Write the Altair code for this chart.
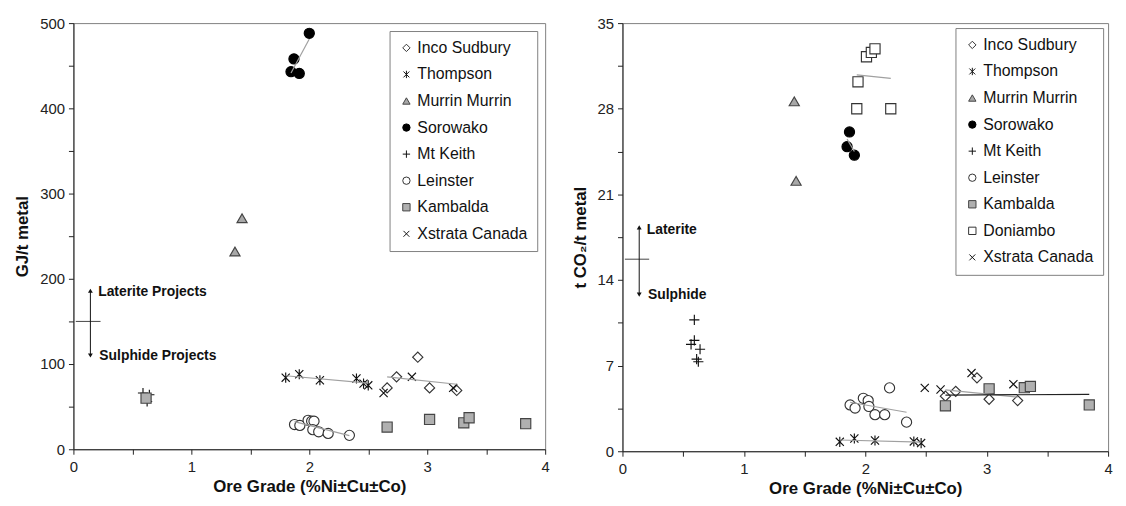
import altair as alt
import pandas as pd

FONT = "Liberation Sans"

# ---------------- Left panel: energy (GJ/t metal) ----------------
L_SERIES = ["Inco Sudbury", "Thompson", "Murrin Murrin", "Sorowako", "Mt Keith",
            "Leinster", "Kambalda", "Xstrata Canada"]
L_inco_x = [2.66, 2.74, 2.92, 3.02, 3.25]
L_inco_y = [72, 85, 108, 72, 69]
L_thom_x = [1.80, 1.915, 2.09, 2.40, 2.46, 2.50]
L_thom_y = [84, 88, 81, 83, 77, 75]
L_murr_x = [1.37, 1.43]
L_murr_y = [232, 271]
L_soro_x = [2.00, 1.87, 1.845, 1.915]
L_soro_y = [488, 458, 443, 441]
L_mtk_x = [0.59, 0.644, 0.625]
L_mtk_y = [66, 64, 56]
L_lein_x = [1.875, 1.92, 1.99, 2.02, 2.04, 2.03, 2.08, 2.16, 2.34]
L_lein_y = [29, 28, 34, 33, 33, 23, 20.5, 18.6, 16.3]
L_kamb_x = [0.616, 2.66, 3.02, 3.31, 3.355, 3.835]
L_kamb_y = [60, 26, 35, 31, 37, 30]
L_xstr_x = [2.63, 2.87, 3.22]
L_xstr_y = [66, 85, 72]
L_TREND = ["Sorowako", "Thompson", "Leinster", "Inco Sudbury"]

# ---------------- Right panel: CO2 (t CO2/t metal) ----------------
R_SERIES = ["Inco Sudbury", "Thompson", "Murrin Murrin", "Sorowako", "Mt Keith",
            "Leinster", "Kambalda", "Doniambo", "Xstrata Canada"]
R_inco_x = [2.66, 2.745, 2.92, 3.02, 3.255]
R_inco_y = [4.5, 4.9, 6.0, 4.25, 4.14]
R_thom_x = [1.79, 1.91, 2.08, 2.40, 2.46]
R_thom_y = [0.77, 1.04, 0.88, 0.80, 0.67]
R_murr_x = [1.415, 1.43]
R_murr_y = [28.6, 22.1]
R_soro_x = [1.87, 1.85, 1.91]
R_soro_y = [26.1, 24.9, 24.2]
R_mtk_x = [0.592, 0.592, 0.565, 0.639, 0.611, 0.625]
R_mtk_y = [10.74, 9.06, 8.74, 8.34, 7.53, 7.32]
R_lein_x = [1.875, 1.916, 1.984, 2.024, 2.03, 2.08, 2.16, 2.20, 2.34]
R_lein_y = [3.79, 3.53, 4.33, 4.14, 3.66, 2.99, 2.99, 5.18, 2.38]
R_kamb_x = [2.66, 3.02, 3.31, 3.36, 3.845]
R_kamb_y = [3.71, 5.1, 5.2, 5.3, 3.79]
R_doni_x = [2.01, 2.05, 2.08, 1.94, 1.93, 2.21]
R_doni_y = [32.25, 32.6, 32.9, 30.2, 28.0, 28.0]
R_xstr_x = [2.49, 2.62, 2.875, 3.22]
R_xstr_y = [5.18, 5.05, 6.39, 5.48]
R_TREND = ["Sorowako", "Thompson", "Leinster", "Inco Sudbury", "Doniambo"]
R_TREND_DARK = ["Kambalda"]

# annotations
L_div_x = [0.02, 0.23]
L_div_y = [150, 150]
L_arrow_x = [0.144]
L_arrow_top = [186]
L_arrow_bot = [110]
L_text = ["Laterite Projects", "Sulphide Projects"]
L_text_x = [0.21, 0.22]
L_text_y = [185, 109]

R_div_x = [0.02, 0.22]
R_div_y = [15.7, 15.7]
R_arrow_x = [0.138]
R_arrow_top = [18.3]
R_arrow_bot = [12.8]
R_text = ["Laterite", "Sulphide"]
R_text_x = [0.2, 0.21]
R_text_y = [18.1, 12.8]

# marker styles
PLUS = "M-1,0L1,0M0,-1L0,1"
XMARK = "M-0.8,-0.8L0.8,0.8M-0.8,0.8L0.8,-0.8"
ASTER = "M-0.8,-0.8L0.8,0.8M-0.8,0.8L0.8,-0.8M0,-1L0,1"
STYLE = {
    "Inco Sudbury": ("diamond", "white", "#333333"),
    "Thompson": (ASTER, "transparent", "#111111"),
    "Murrin Murrin": ("triangle-up", "#a8a8a8", "#444444"),
    "Sorowako": ("circle", "#000000", "#000000"),
    "Mt Keith": (PLUS, "transparent", "#111111"),
    "Leinster": ("circle", "white", "#333333"),
    "Kambalda": ("square", "#b0b0b0", "#444444"),
    "Doniambo": ("square", "white", "#333333"),
    "Xstrata Canada": (XMARK, "transparent", "#111111"),
}


def make_df(pairs):
    rows = []
    for name, xs, ys in pairs:
        for a, b in zip(xs, ys):
            rows.append({"series": name, "x": a, "y": b})
    return pd.DataFrame(rows)


def panel(df, order, trend, trend_dark, ydom, yvals, ystep, ytitle,
          div, arrow, texts, width, height, leg_offset):
    shapes = [STYLE[s][0] for s in order]
    fills = [STYLE[s][1] for s in order]
    strokes = [STYLE[s][2] for s in order]
    leg = alt.Legend(title=None, orient="top-right", offset=leg_offset, padding=9,
                     strokeColor="#808080", fillColor="white",
                     labelFont=FONT, labelFontSize=16, labelColor="#111",
                     symbolSize=55, symbolStrokeWidth=1, rowPadding=10.8,
                     labelLimit=300, symbolOffset=0, labelOffset=3)
    xax = alt.Axis(values=[i * 0.5 for i in range(9)],
                   labelExpr="datum.value % 1 == 0 ? format(datum.value, 'd') : ''",
                   title="Ore Grade (%Ni±Cu±Co)", grid=False, labelFlush=False,
                   labelOverlap=False, domainColor="#222", tickColor="#222",
                   tickSize=5, labelFont=FONT, labelFontSize=15, labelColor="#222",
                   titleFont=FONT, titleFontSize=17, titleFontWeight="bold",
                   titleColor="#111", titlePadding=5, labelPadding=5)
    yax = alt.Axis(values=yvals,
                   labelExpr="datum.value % " + str(ystep) + " == 0 ? format(datum.value, 'd') : ''",
                   title=ytitle, grid=False, labelOverlap=False, labelFlush=False,
                   domainColor="#222", tickColor="#222", tickSize=5,
                   labelFont=FONT, labelFontSize=15, labelColor="#222",
                   titleFont=FONT, titleFontSize=17, titleFontWeight="bold",
                   titleColor="#111", titlePadding=8, labelPadding=4)
    X = alt.X("x:Q", scale=alt.Scale(domain=[0, 4], nice=False), axis=xax)
    Y = alt.Y("y:Q", scale=alt.Scale(domain=ydom, nice=False), axis=yax)

    base = alt.Chart(df)
    lines = base.transform_filter(
        alt.FieldOneOfPredicate(field="series", oneOf=trend)
    ).transform_regression("x", "y", groupby=["series"]).mark_line(
        color="#a0a0a0", strokeWidth=1.2
    ).encode(x="x:Q", y="y:Q", detail="series:N")
    layers = [lines]
    if trend_dark:
        dark = base.transform_filter(
            alt.FieldOneOfPredicate(field="series", oneOf=trend_dark)
        ).transform_regression("x", "y", groupby=["series"]).mark_line(
            color="#222222", strokeWidth=1.2
        ).encode(x="x:Q", y="y:Q", detail="series:N")
        layers.append(dark)

    dx, dy = div
    div_df = pd.DataFrame({"x": dx, "y": dy})
    divl = alt.Chart(div_df).mark_line(color="#444", strokeWidth=1).encode(x="x:Q", y="y:Q")
    ax_, atop, abot = arrow
    arr_df = pd.DataFrame({"x": ax_, "top": atop, "bot": abot})
    arr = alt.Chart(arr_df).mark_rule(color="#111", strokeWidth=1).encode(
        x="x:Q", y="top:Q", y2="bot:Q")
    head_up = alt.Chart(arr_df).mark_point(shape="triangle-up", filled=True, color="#111",
                                           size=24, opacity=1).encode(x="x:Q", y="top:Q")
    head_dn = alt.Chart(arr_df).mark_point(shape="triangle-down", filled=True, color="#111",
                                           size=24, opacity=1).encode(x="x:Q", y="bot:Q")
    tl, tx, ty = texts
    txt_df = pd.DataFrame({"t": tl, "x": tx, "y": ty})
    txt = alt.Chart(txt_df).mark_text(align="left", baseline="middle", font=FONT,
                                      fontSize=14, fontWeight="bold", color="#111").encode(
        x="x:Q", y="y:Q", text="t:N")

    pts = base.mark_point(filled=True, strokeWidth=1.15, opacity=1, size=105).encode(
        x=X, y=Y,
        shape=alt.Shape("series:N", scale=alt.Scale(domain=order, range=shapes), legend=leg),
        fill=alt.Fill("series:N", scale=alt.Scale(domain=order, range=fills), legend=leg),
        stroke=alt.Stroke("series:N", scale=alt.Scale(domain=order, range=strokes), legend=leg),
    )
    return alt.layer(pts, *layers, divl, arr, head_up, head_dn, txt).properties(
        width=width, height=height)


dfL = make_df([
    ("Inco Sudbury", L_inco_x, L_inco_y), ("Thompson", L_thom_x, L_thom_y),
    ("Murrin Murrin", L_murr_x, L_murr_y), ("Sorowako", L_soro_x, L_soro_y),
    ("Mt Keith", L_mtk_x, L_mtk_y), ("Leinster", L_lein_x, L_lein_y),
    ("Kambalda", L_kamb_x, L_kamb_y), ("Xstrata Canada", L_xstr_x, L_xstr_y),
])
dfR = make_df([
    ("Inco Sudbury", R_inco_x, R_inco_y), ("Thompson", R_thom_x, R_thom_y),
    ("Murrin Murrin", R_murr_x, R_murr_y), ("Sorowako", R_soro_x, R_soro_y),
    ("Mt Keith", R_mtk_x, R_mtk_y), ("Leinster", R_lein_x, R_lein_y),
    ("Kambalda", R_kamb_x, R_kamb_y), ("Doniambo", R_doni_x, R_doni_y),
    ("Xstrata Canada", R_xstr_x, R_xstr_y),
])

left = panel(dfL, L_SERIES, L_TREND, [], [0, 500], [i * 25 for i in range(21)], 100,
             "GJ/t metal", (L_div_x, L_div_y), (L_arrow_x, L_arrow_top, L_arrow_bot),
             (L_text, L_text_x, L_text_y), 476, 430, 8)
right = panel(dfR, R_SERIES, R_TREND, R_TREND_DARK, [0, 35], [i * 3.5 for i in range(11)], 7,
              "t CO₂/t metal", (R_div_x, R_div_y), (R_arrow_x, R_arrow_top, R_arrow_bot),
              (R_text, R_text_x, R_text_y), 490, 432, 5)

chart = alt.hconcat(left, right, spacing=20).resolve_scale(
    shape="independent", fill="independent", stroke="independent",
    x="independent", y="independent"
).resolve_legend(shape="independent", fill="independent", stroke="independent").configure_view(
    stroke="#808080", strokeWidth=1
).properties(background="white")

chart.save("out.html", embed_options={"renderer": "svg", "actions": False})
